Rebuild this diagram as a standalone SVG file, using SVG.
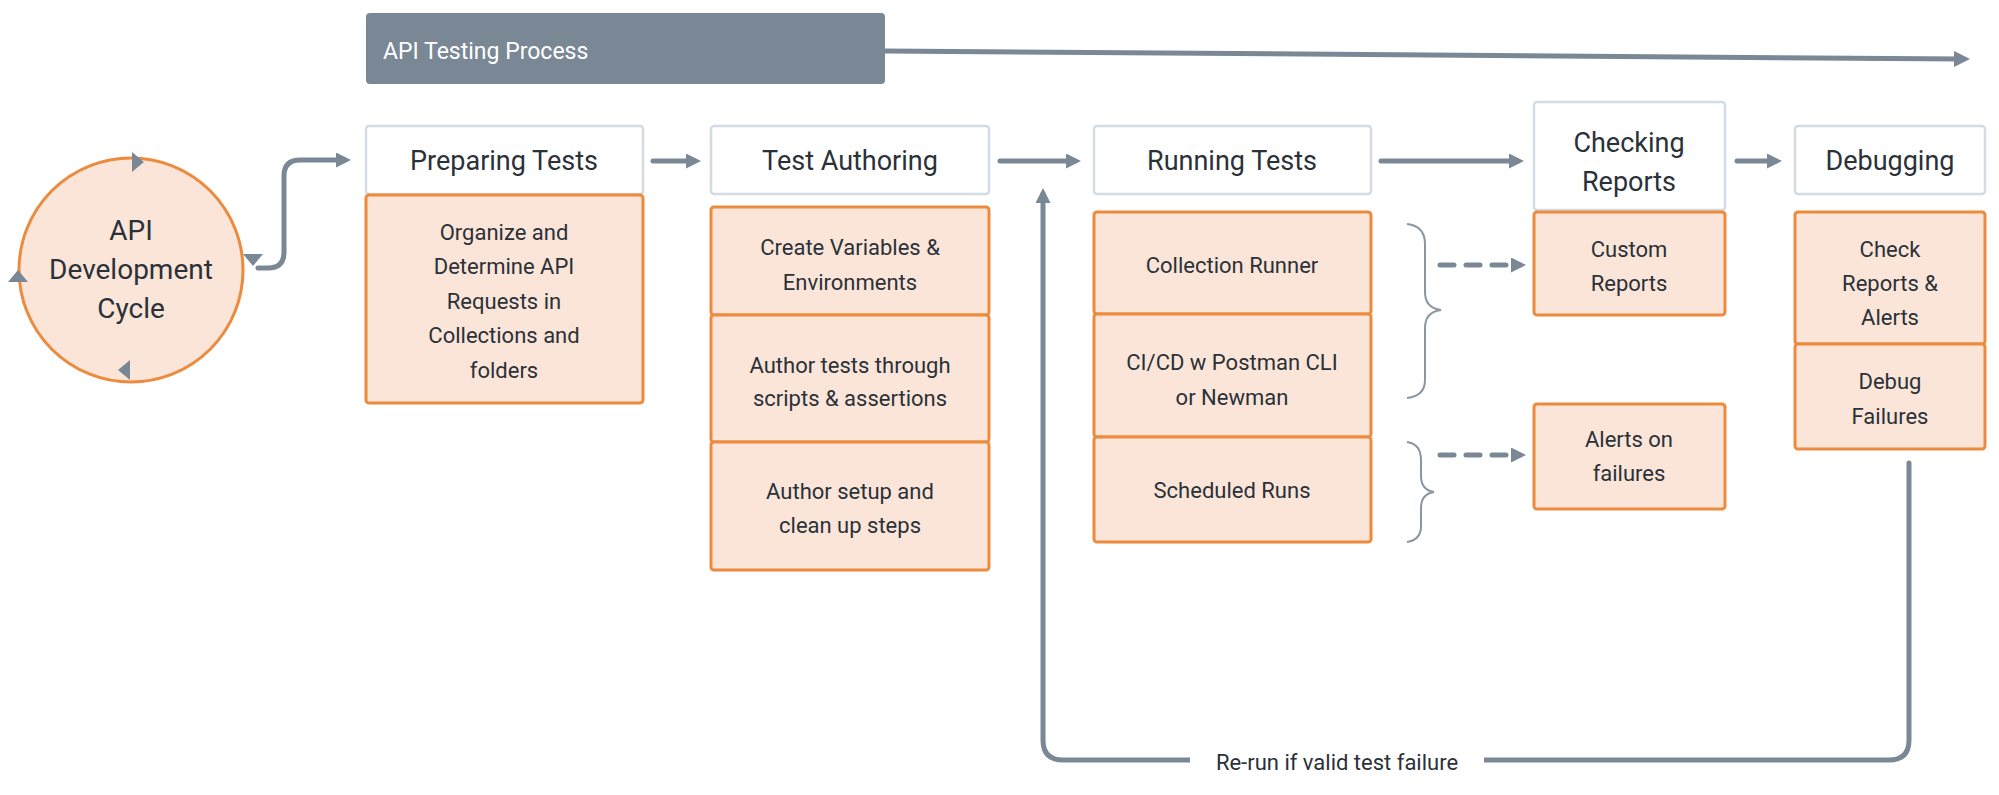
<svg xmlns="http://www.w3.org/2000/svg" width="1999" height="795" viewBox="0 0 1999 795">
<style>
text{font-family:"Liberation Sans Narrow","Roboto","Liberation Sans",sans-serif;fill:#2b3138;text-anchor:middle}
.h{fill:#fff;stroke:#d3dce4;stroke-width:2.5}
.o{fill:#fae5d8;stroke:#ec8a3d;stroke-width:3}
.hl{font-size:27px}
.bl{font-size:22px}
.c{fill:none;stroke:#7a8896;stroke-width:5;stroke-linecap:round}
.br{fill:none;stroke:#8a96a3;stroke-width:2}
</style>
<defs>
<marker id="a" viewBox="0 0 10 10" refX="6" refY="5" markerWidth="3" markerHeight="3" orient="auto"><path d="M0,0L10,5L0,10z" fill="#7a8896"/></marker>
<marker id="t" viewBox="0 0 10 10" refX="5" refY="5" markerWidth="3.2" markerHeight="3.2" orient="auto"><path d="M0,0L10,5L0,10z" fill="#7a8896"/></marker>
</defs>
<g id="title"><rect x="366" y="13" width="519" height="71" rx="4" fill="#7a8896"/><text x="383" y="59" style="font-size:23px;fill:#fff;text-anchor:start">API Testing Process</text></g>
<g id="cycle"><circle cx="131" cy="270" r="112" fill="#fae5d8" stroke="#ec8a3d" stroke-width="3"/>
<text x="131" y="240" style="font-size:28px">API</text><text x="131" y="279" style="font-size:28px">Development</text><text x="131" y="318" style="font-size:28px">Cycle</text>
<path d="M132,152l12,10l-12,10z M243,254l10,12l10,-12z M130,360l-12,10l12,10z M8,282l10,-12l10,12z" fill="#7a8896" transform="translate(0,0)"/></g>
<g id="prep"><rect class="h" x="366" y="126" width="277" height="68" rx="3"/><text class="hl" x="504" y="170">Preparing Tests</text>
<rect class="o" x="366" y="195" width="277" height="208" rx="3"/>
<text class="bl" x="504" y="240">Organize and</text><text class="bl" x="504" y="274">Determine API</text><text class="bl" x="504" y="309">Requests in</text><text class="bl" x="504" y="343">Collections and</text><text class="bl" x="504" y="378">folders</text></g>
<g id="author"><rect class="h" x="711" y="126" width="278" height="68" rx="3"/><text class="hl" x="850" y="170">Test Authoring</text>
<rect class="o" x="711" y="207" width="278" height="108" rx="3"/><text class="bl" x="850" y="255">Create Variables &amp;</text><text class="bl" x="850" y="290">Environments</text>
<rect class="o" x="711" y="315" width="278" height="127" rx="3"/><text class="bl" x="850" y="373">Author tests through</text><text class="bl" x="850" y="406">scripts &amp; assertions</text>
<rect class="o" x="711" y="442" width="278" height="128" rx="3"/><text class="bl" x="850" y="499">Author setup and</text><text class="bl" x="850" y="533">clean up steps</text></g>
<g id="running"><rect class="h" x="1094" y="126" width="277" height="68" rx="3"/><text class="hl" x="1232" y="170">Running Tests</text>
<rect class="o" x="1094" y="212" width="277" height="102" rx="3"/><text class="bl" x="1232" y="273">Collection Runner</text>
<rect class="o" x="1094" y="314" width="277" height="123" rx="3"/><text class="bl" x="1232" y="370">CI/CD w Postman CLI</text><text class="bl" x="1232" y="405">or Newman</text>
<rect class="o" x="1094" y="437" width="277" height="105" rx="3"/><text class="bl" x="1232" y="498">Scheduled Runs</text></g>
<g id="checking"><rect class="h" x="1534" y="102" width="191" height="108" rx="3"/><text class="hl" x="1629" y="152">Checking</text><text class="hl" x="1629" y="191">Reports</text>
<rect class="o" x="1534" y="212" width="191" height="103" rx="3"/><text class="bl" x="1629" y="257">Custom</text><text class="bl" x="1629" y="291">Reports</text>
<rect class="o" x="1534" y="404" width="191" height="105" rx="3"/><text class="bl" x="1629" y="447">Alerts on</text><text class="bl" x="1629" y="481">failures</text></g>
<g id="debugging"><rect class="h" x="1795" y="126" width="190" height="68" rx="3"/><text class="hl" x="1890" y="170">Debugging</text>
<rect class="o" x="1795" y="212" width="190" height="132" rx="3"/><text class="bl" x="1890" y="257">Check</text><text class="bl" x="1890" y="291">Reports &amp;</text><text class="bl" x="1890" y="325">Alerts</text>
<rect class="o" x="1795" y="344" width="190" height="105" rx="3"/><text class="bl" x="1890" y="389">Debug</text><text class="bl" x="1890" y="424">Failures</text></g>
<g id="connectors">
<path class="c" d="M885,51L1962,59" marker-end="url(#t)"/>
<path class="c" d="M258,268h10q16,0 16,-16v-76q0,-16 16,-16h45" marker-end="url(#a)"/>
<path class="c" d="M653,161h42" marker-end="url(#a)"/>
<path class="c" d="M1000,161h75" marker-end="url(#a)"/>
<path class="c" d="M1381,161h137" marker-end="url(#a)"/>
<path class="c" d="M1737,161h39" marker-end="url(#a)"/>
<path class="c" d="M1909,463V740q0,20 -20,20H1063q-20,0 -20,-20V194" marker-end="url(#a)"/>
<path class="c" d="M1440,265h80" stroke-dasharray="14,12" marker-end="url(#a)"/>
<path class="c" d="M1440,455h80" stroke-dasharray="14,12" marker-end="url(#a)"/>
<path class="br" d="M1407,224q18,2 18,20v48q0,16 16,18q-16,2 -16,18v52q0,16 -18,18"/>
<path class="br" d="M1407,442q14,2 14,18v16q0,14 13,16q-13,2 -13,16v18q0,14 -14,16"/>
<rect x="1190" y="745" width="294" height="30" fill="#fff"/>
<text x="1337" y="770" style="font-size:22px">Re-run if valid test failure</text>
</g>
</svg>
